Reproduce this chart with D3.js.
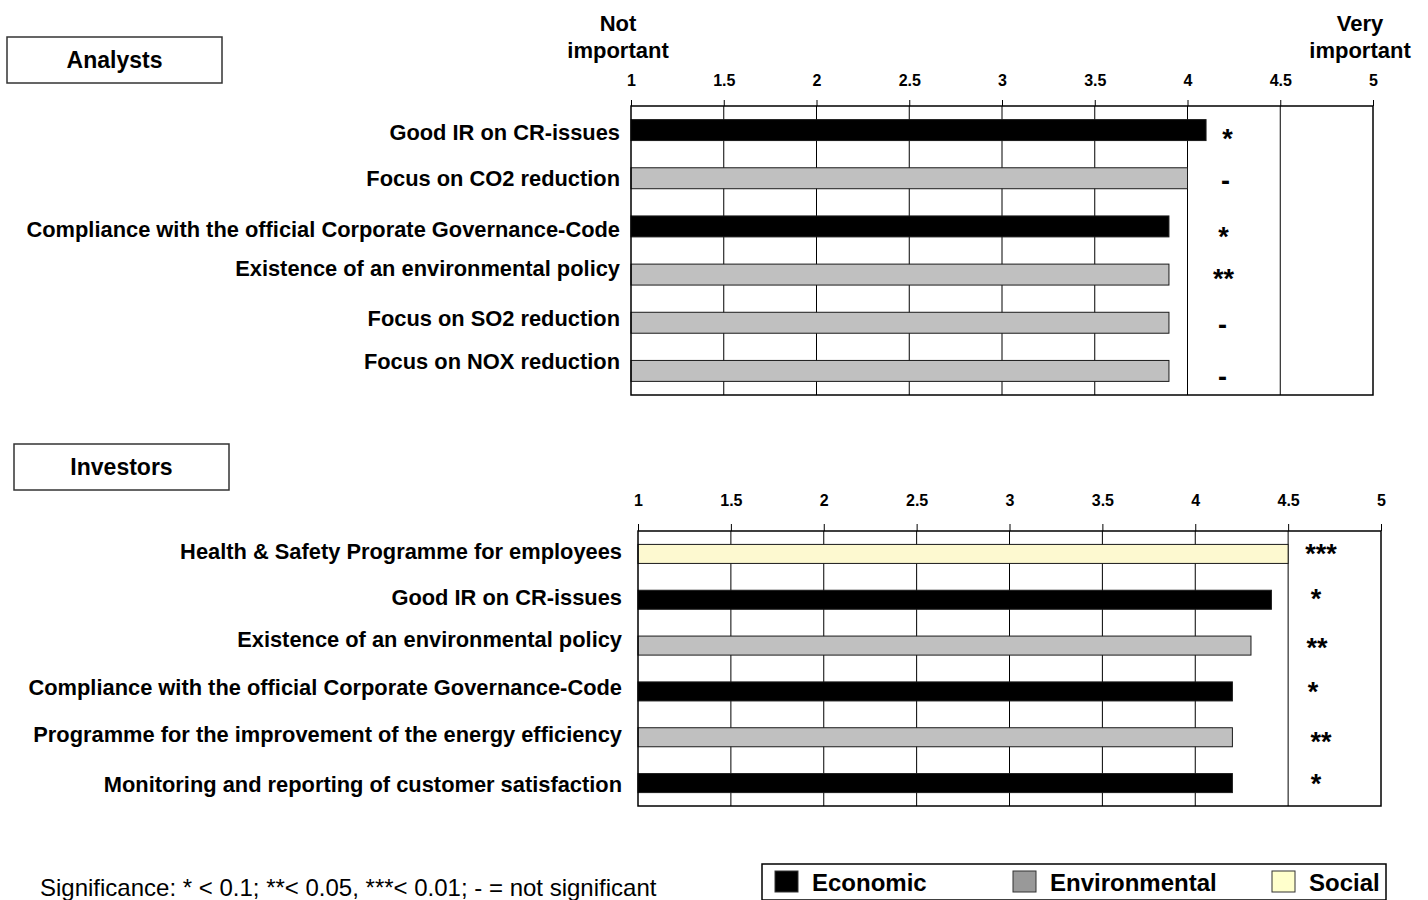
<!DOCTYPE html>
<html>
<head>
<meta charset="utf-8">
<script src="https://cdn.jsdelivr.net/npm/d3@7"></script>
<style>
  html, body { margin: 0; padding: 0; background: #fff; }
  svg { display: block; font-family: "Liberation Sans", Arial, sans-serif; }
</style>
</head>
<body>
<svg id="chart" width="1428" height="900"></svg>
<script>
// ---- data ----
const scaleTicks = [1, 1.5, 2, 2.5, 3, 3.5, 4, 4.5, 5];

const analystItems = [
  "Good IR on CR-issues",
  "Focus on CO2 reduction",
  "Compliance with the official Corporate Governance-Code",
  "Existence of an environmental policy",
  "Focus on SO2 reduction",
  "Focus on NOX reduction"
];
const analystValues = [4.1, 4.0, 3.9, 3.9, 3.9, 3.9];
const analystGroups = ["Economic", "Environmental", "Economic", "Environmental", "Environmental", "Environmental"];
const analystSig = ["*", "-", "*", "**", "-", "-"];

const investorItems = [
  "Health & Safety Programme for employees",
  "Good IR on CR-issues",
  "Existence of an environmental policy",
  "Compliance with the official Corporate Governance-Code",
  "Programme for the improvement of the energy efficiency",
  "Monitoring and reporting of customer satisfaction"
];
const investorValues = [4.5, 4.41, 4.3, 4.2, 4.2, 4.2];
const investorGroups = ["Social", "Economic", "Environmental", "Economic", "Environmental", "Economic"];
const investorSig = ["***", "*", "**", "*", "**", "*"];

const legendGroups = ["Economic", "Environmental", "Social"];
const noteText = "Significance: * < 0.1; **< 0.05, ***< 0.01; - = not significant";

// ---- styles ----
const barFill = d3.scaleOrdinal().domain(legendGroups).range(["#000000", "#c0c0c0", "#fdf9d0"]);
const swatchFill = d3.scaleOrdinal().domain(legendGroups).range(["#000000", "#999999", "#ffffcc"]);

const svg = d3.select("#chart");

function drawPanel(cfg) {
  const g = svg.append("g");
  const x = d3.scaleLinear().domain([1, 5]).range([cfg.left, cfg.right]);
  const y = d3.scaleBand().domain(cfg.items).range([cfg.top, cfg.bottom])
    .paddingInner(cfg.pad).paddingOuter(cfg.pad / 2);

  // frame background
  g.append("rect")
    .attr("x", cfg.left).attr("y", cfg.top)
    .attr("width", cfg.right - cfg.left).attr("height", cfg.bottom - cfg.top)
    .attr("fill", "#fff");

  // vertical grid lines
  g.append("g").selectAll("line")
    .data(scaleTicks.slice(1, -1))
    .join("line")
    .attr("x1", d => x(d)).attr("x2", d => x(d))
    .attr("y1", cfg.top).attr("y2", cfg.bottom)
    .attr("stroke", "#000").attr("stroke-width", 1);

  // top axis with tick marks above the frame
  const axis = d3.axisTop(x).tickValues(scaleTicks).tickSize(cfg.tickLen)
    .tickPadding(cfg.tickPad).tickFormat(d3.format("~g"));
  const ag = g.append("g").attr("transform", `translate(0,${cfg.top})`).call(axis);
  ag.select(".domain").remove();
  ag.selectAll(".tick line").attr("stroke", "#000").attr("stroke-width", 1);
  ag.selectAll(".tick text")
    .attr("fill", "#000").style("font-size", "16px").style("font-weight", "bold")
    .style("font-family", "'Liberation Sans', Arial, sans-serif");

  // bars
  g.append("g").selectAll("rect")
    .data(cfg.items)
    .join("rect")
    .attr("x", x(1))
    .attr("y", d => y(d))
    .attr("width", (d, i) => x(cfg.values[i]) - x(1))
    .attr("height", y.bandwidth())
    .attr("fill", (d, i) => barFill(cfg.groups[i]))
    .attr("stroke", "#1a1a1a").attr("stroke-width", 1);

  // frame outline
  g.append("rect")
    .attr("x", cfg.left).attr("y", cfg.top)
    .attr("width", cfg.right - cfg.left).attr("height", cfg.bottom - cfg.top)
    .attr("fill", "none").attr("stroke", "#000").attr("stroke-width", 1.5);

  // category labels
  g.append("g").selectAll("text")
    .data(cfg.items)
    .join("text")
    .attr("x", cfg.left - cfg.labelGap)
    .attr("y", (d, i) => y(d) + y.bandwidth() / 2 + cfg.labelNudge[i])
    .attr("dy", "0.35em")
    .attr("text-anchor", "end")
    .style("font-size", "21.85px").style("font-weight", "bold")
    .text(d => d);

  // significance markers
  g.append("g").selectAll("text")
    .data(cfg.items)
    .join("text")
    .attr("x", (d, i) => x(cfg.sigAt) + cfg.sigDx[i])
    .attr("y", (d, i) => y(d) + y.bandwidth() / 2 + cfg.sigNudge[i])
    .attr("dy", "0.35em")
    .attr("text-anchor", "middle")
    .style("font-size", "27px").style("font-weight", "bold")
    .text((d, i) => cfg.sig[i]);

  // panel title box
  g.append("rect")
    .attr("x", cfg.boxX).attr("y", cfg.boxY).attr("width", 215).attr("height", 46)
    .attr("fill", "#fff").attr("stroke", "#333").attr("stroke-width", 1.5);
  g.append("text")
    .attr("x", cfg.boxX + 107.5).attr("y", cfg.boxY + 23).attr("dy", "0.35em")
    .attr("text-anchor", "middle")
    .style("font-size", "23px").style("font-weight", "bold")
    .text(cfg.title);
  return x;
}

drawPanel({
  title: "Analysts", boxX: 7, boxY: 37,
  items: analystItems, values: analystValues, groups: analystGroups, sig: analystSig,
  left: 631, right: 1373, top: 106, bottom: 395, pad: 0.565,
  tickLen: 6, tickPad: 14, labelGap: 11,
  labelNudge: [2, 0, 2.5, -6, -4, -10],
  sigAt: 4.2, sigDx: [3, 1, -1, -1, -2, -2], sigNudge: [8, 2, 10, 4, 2, 6]
});

drawPanel({
  title: "Investors", boxX: 14, boxY: 444,
  items: investorItems, values: investorValues, groups: investorGroups, sig: investorSig,
  left: 638, right: 1381, top: 531, bottom: 806, pad: 0.585,
  tickLen: 7, tickPad: 18, labelGap: 16,
  labelNudge: [-3, -2, -6, -4, -3, 1],
  sigAt: 4.65, sigDx: [5, 0, 1, -3, 5, 0], sigNudge: [0, -1, 2, 0, 4, 0]
});

// scale end captions
const captions = [
  { lines: ["Not", "important"], cx: 618 },
  { lines: ["Very", "important"], cx: 1360 }
];
captions.forEach(c => {
  const t = svg.append("text").attr("text-anchor", "middle")
    .style("font-size", "22px").style("font-weight", "bold");
  c.lines.forEach((ln, i) => {
    t.append("tspan").attr("x", c.cx).attr("y", 31 + i * 27).text(ln);
  });
});

// significance note
svg.append("text")
  .attr("x", 40).attr("y", 896)
  .style("font-size", "24px")
  .text(noteText);

// legend
const lg = svg.append("g");
lg.append("rect").attr("x", 762).attr("y", 864).attr("width", 624).attr("height", 36)
  .attr("fill", "#fff").attr("stroke", "#000").attr("stroke-width", 1.5);
const legendXs = { Economic: 775, Environmental: 1013, Social: 1272 };
lg.selectAll("g.item")
  .data(legendGroups)
  .join("g").attr("class", "item")
  .attr("transform", d => `translate(${legendXs[d]},871)`)
  .each(function (d) {
    const s = d3.select(this);
    s.append("rect").attr("x", 0).attr("y", 0).attr("width", 23).attr("height", 21)
      .attr("fill", swatchFill(d)).attr("stroke", "#333").attr("stroke-width", 1);
    s.append("text").attr("x", 37).attr("y", 11).attr("dy", "0.36em")
      .style("font-size", "24px").style("font-weight", "bold").text(d);
  });
</script>
</body>
</html>
